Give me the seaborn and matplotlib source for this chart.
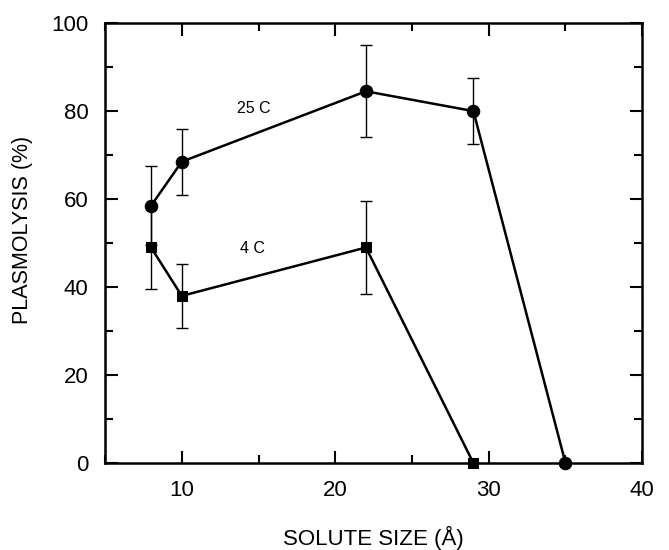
import matplotlib
matplotlib.use("Agg")
import matplotlib.pyplot as plt
import seaborn as sns
import pandas as pd
from matplotlib.ticker import MultipleLocator

# Data
size_25 = [8, 10, 22, 29, 35]
plas_25 = [58.5, 68.5, 84.5, 80.0, 0.0]
err_25 = [9.0, 7.5, 10.5, 7.5, 0.0]

size_4 = [8, 10, 22, 29]
plas_4 = [49.0, 38.0, 49.0, 0.0]
err_4 = [9.5, 7.3, 10.5, 0.0]

labels = ["25 C", "4 C"]

sns.set_style("ticks")
plt.rcParams['font.family'] = ['Liberation Sans', 'DejaVu Sans']
plt.rcParams['text.color'] = 'black'
plt.rcParams['axes.labelcolor'] = 'black'
plt.rcParams['xtick.color'] = 'black'
plt.rcParams['ytick.color'] = 'black'
plt.rcParams['axes.edgecolor'] = 'black'

df25 = pd.DataFrame({"size": size_25, "plas": plas_25})
df4 = pd.DataFrame({"size": size_4, "plas": plas_4})

fig = plt.figure(figsize=(6.69, 5.5), dpi=100)
ax = fig.add_axes([0.157, 0.158, 0.803, 0.800])

ax.errorbar(size_25, plas_25, yerr=err_25, fmt="none",
            ecolor="black", elinewidth=1.0, capsize=4.5, capthick=1.0, zorder=2)
ax.errorbar(size_4, plas_4, yerr=err_4, fmt="none",
            ecolor="black", elinewidth=1.0, capsize=4.5, capthick=1.0, zorder=2)

sns.lineplot(data=df25, x="size", y="plas", ax=ax, color="black", lw=1.8,
             marker="o", markersize=9, markeredgecolor="black", zorder=3,
             clip_on=False)
sns.lineplot(data=df4, x="size", y="plas", ax=ax, color="black", lw=1.8,
             marker="s", markersize=7.5, markeredgecolor="black", zorder=3,
             clip_on=False)

ax.text(14.7, 80.6, labels[0], fontsize=11.5, ha="center", va="center", color="black")
ax.text(14.6, 48.8, labels[1], fontsize=11.5, ha="center", va="center", color="black")

ax.set_xlim(5, 40)
ax.set_ylim(0, 100)
ax.xaxis.set_major_locator(MultipleLocator(10))
ax.xaxis.set_minor_locator(MultipleLocator(5))
ax.yaxis.set_major_locator(MultipleLocator(20))
ax.yaxis.set_minor_locator(MultipleLocator(10))
ax.tick_params(which="both", direction="in", top=True, right=True, width=1.5,
               color="black", labelcolor="black")
ax.tick_params(which="major", length=9, labelsize=16, pad=12)
ax.tick_params(which="minor", length=6)
for s in ax.spines.values():
    s.set_linewidth(1.8)
    s.set_color("black")

ax.set_xlabel("SOLUTE SIZE (Å)", fontsize=16, labelpad=18, color="black")
ax.set_ylabel("PLASMOLYSIS (%)", fontsize=15.5, labelpad=8, color="black")
ax.yaxis.set_label_coords(-0.135, 0.53)

fig.savefig("out.png", dpi=100)
